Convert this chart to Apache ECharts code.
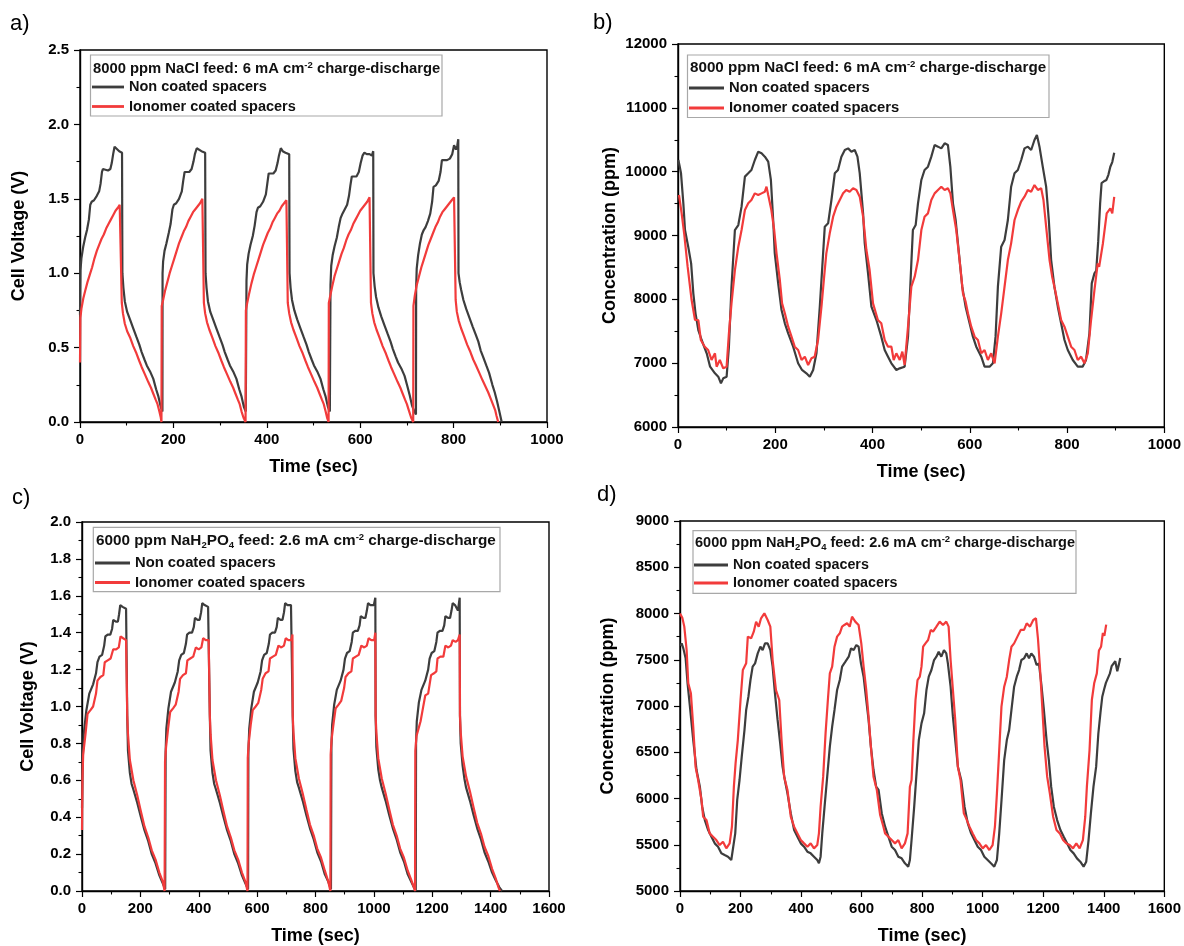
<!DOCTYPE html>
<html>
<head>
<meta charset="utf-8">
<script src="https://cdn.jsdelivr.net/npm/echarts@6/dist/echarts.min.js"></script>
<style>
html,body{margin:0;padding:0;background:#fff;}
#chart{width:1184px;height:946px;}
</style>
</head>
<body>
<div id="chart"></div>
<script>
// ---------- data: [time (sec), value] ----------
// a) 8000 ppm NaCl, cell voltage (V)
const voltNaClNonCoated = [
[0,0.72],[1,1.02],[3,1.10],[7,1.18],[11,1.24],[15,1.29],[19,1.36],[22,1.46],[25,1.48],[30,1.49],[36,1.52],[41,1.55],[44,1.60],[47,1.68],[49,1.70],[53,1.69],[60,1.69],[65,1.70],[68,1.74],[71,1.80],[74,1.85],[78,1.84],[84,1.82],[90,1.81],
[90.8,1.0],[93,0.90],[96,0.81],[101,0.74],[107,0.69],[114,0.63],[121,0.57],[127,0.52],[132,0.47],[138,0.42],[143,0.38],[150,0.34],[157,0.29],[163,0.22],[168,0.17],[173,0.10],[176.5,0.07],
[176.8,1.0],[178,1.08],[181,1.15],[185,1.20],[190,1.27],[194,1.33],[198,1.43],[201,1.46],[206,1.47],[212,1.50],[218,1.55],[221,1.62],[224,1.68],[228,1.68],[234,1.68],[239,1.70],[243,1.75],[246,1.80],[250,1.84],[254,1.83],[260,1.82],[268,1.81],
[268.8,1.0],[271,0.90],[274,0.81],[279,0.74],[285,0.69],[292,0.63],[299,0.57],[305,0.52],[310,0.47],[316,0.42],[321,0.38],[328,0.34],[335,0.29],[341,0.22],[346,0.17],[351,0.10],[355,0.07],[356.3,0.06],
[356.5,0.95],[358,1.06],[361,1.13],[365,1.19],[370,1.25],[374,1.32],[378,1.41],[381,1.44],[386,1.45],[392,1.48],[398,1.53],[401,1.60],[404,1.67],[408,1.67],[414,1.67],[419,1.69],[423,1.74],[426,1.79],[430,1.84],[434,1.82],[440,1.81],[448,1.80],
[448.7,1.0],[451,0.90],[454,0.82],[459,0.75],[465,0.69],[472,0.63],[479,0.57],[485,0.52],[490,0.47],[496,0.42],[501,0.38],[508,0.34],[515,0.29],[521,0.22],[526,0.17],[531,0.10],[535,0.07],[536.2,0.06],
[536.4,0.92],[538,1.05],[541,1.12],[545,1.18],[550,1.24],[554,1.31],[558,1.37],[562,1.40],[567,1.43],[572,1.46],[576,1.52],[579,1.59],[582,1.65],[586,1.64],[592,1.65],[597,1.68],[601,1.74],[605,1.79],[609,1.81],[614,1.80],[620,1.80],[625,1.79],[627.9,1.82],
[628.4,1.0],[631,0.91],[634,0.84],[639,0.77],[645,0.71],[652,0.65],[659,0.59],[665,0.54],[670,0.49],[676,0.44],[681,0.40],[688,0.36],[695,0.31],[701,0.24],[706,0.18],[711,0.11],[716,0.07],[719.4,0.05],
[719.8,0.9],[721,1.03],[724,1.12],[728,1.20],[732,1.26],[736,1.29],[740,1.31],[745,1.35],[750,1.40],[754,1.48],[757,1.58],[762,1.59],[768,1.62],[772,1.68],[775,1.76],[780,1.76],[786,1.76],[792,1.77],[797,1.80],[801,1.86],[805,1.83],[808,1.86],[810,1.90],
[810.5,1.0],[813,0.94],[816,0.89],[821,0.82],[827,0.76],[834,0.70],[841,0.64],[847,0.59],[853,0.54],[858,0.48],[863,0.44],[870,0.38],[876,0.33],[883,0.25],[888,0.20],[893,0.14],[898,0.07],[903,0.0]
];
const voltNaClCoated = [
[0,0.40],[0.8,0.70],[3,0.76],[7,0.83],[11,0.88],[16,0.94],[21,0.99],[26,1.04],[31,1.10],[36,1.15],[41,1.19],[46,1.23],[51,1.26],[56,1.30],[61,1.33],[66,1.36],[71,1.39],[76,1.42],[81,1.44],[85,1.46],[88.5,1.47],
[89.5,0.80],[92,0.73],[96,0.66],[101,0.61],[107,0.57],[114,0.51],[121,0.46],[127,0.41],[132,0.37],[139,0.32],[146,0.27],[152,0.23],[157,0.19],[162,0.15],[166,0.12],[170,0.07],[173,0.03],[174.4,0.0],
[175,0.78],[178,0.82],[182,0.88],[187,0.94],[192,1.00],[197,1.05],[202,1.10],[207,1.15],[212,1.20],[217,1.24],[222,1.28],[227,1.31],[232,1.35],[237,1.38],[242,1.41],[247,1.43],[252,1.45],[257,1.47],[262,1.50],[264.7,1.50],
[265.3,0.80],[268,0.73],[272,0.67],[277,0.62],[283,0.57],[290,0.51],[297,0.46],[303,0.41],[308,0.37],[315,0.32],[322,0.27],[328,0.23],[333,0.19],[338,0.15],[342,0.12],[346,0.07],[350,0.03],[354.5,0.0],
[355.2,0.75],[358,0.80],[362,0.86],[367,0.93],[372,0.99],[377,1.04],[382,1.09],[387,1.14],[392,1.19],[397,1.23],[402,1.27],[407,1.30],[412,1.34],[417,1.37],[422,1.40],[427,1.42],[432,1.45],[437,1.47],[442,1.49],[444.3,1.49],
[444.9,0.80],[448,0.73],[452,0.67],[457,0.62],[463,0.57],[470,0.51],[477,0.46],[483,0.41],[488,0.37],[495,0.32],[502,0.27],[508,0.23],[513,0.19],[518,0.15],[522,0.12],[526,0.07],[529,0.03],[532.3,0.0],
[532.8,0.80],[536,0.85],[540,0.91],[545,0.98],[550,1.03],[555,1.08],[560,1.13],[565,1.17],[570,1.22],[575,1.26],[580,1.29],[585,1.33],[590,1.36],[595,1.39],[600,1.42],[605,1.44],[610,1.46],[615,1.48],[620,1.51],[622.5,1.52],
[623.1,0.80],[626,0.73],[630,0.67],[635,0.62],[641,0.57],[648,0.51],[655,0.46],[661,0.41],[666,0.37],[673,0.32],[680,0.27],[686,0.23],[691,0.19],[696,0.15],[700,0.12],[705,0.07],[709,0.03],[713.5,0.0],
[714,0.78],[717,0.85],[721,0.92],[726,0.98],[731,1.04],[736,1.09],[741,1.14],[746,1.19],[751,1.23],[756,1.27],[761,1.31],[766,1.34],[771,1.38],[776,1.41],[781,1.43],[786,1.45],[791,1.47],[796,1.49],[801,1.51],[803.8,1.52],
[804.4,0.82],[807,0.74],[811,0.68],[816,0.63],[822,0.58],[829,0.52],[836,0.47],[842,0.42],[848,0.38],[855,0.33],[862,0.28],[868,0.24],[874,0.20],[879,0.16],[884,0.12],[889,0.08],[892,0.04],[895.5,0.0]
];

// b) 8000 ppm NaCl, concentration (ppm)
const concNaClNonCoated = [
[0.7,10183],[3,10100],[6.2,9974],[11,9504],[14.4,9086],[21,8825],[27,8564],[31.5,8094],[36,7781],[41.8,7519],[48.6,7363],[59,7154],[66,6945],[76,6841],[82.8,6788],[88.3,6684],[93,6762],[100,6788],[104.7,7258],[110,8198],[117,9086],[124,9164],[130.7,9452],[137.6,9922],[144.4,9974],[151,10026],[158,10183],[165,10313],[171.8,10287],[178.6,10235],[185.5,10157],[191,9870],[195.7,9243],[199,8720],[206,8250],[212.9,7833],[219.7,7624],[226.6,7467],[236.8,7258],[247,6998],[255,6893],[264,6841],[271,6788],[277.9,6893],[284.7,7154],[291.6,7885],[298.4,8720],[301.8,9138],[308.7,9191],[315.5,9556],[322.4,9974],[329,10026],[336,10235],[343,10339],[349.8,10365],[356.6,10313],[363.4,10339],[369,10235],[373.7,9974],[380.6,9347],[384,8877],[390.8,8407],[397.7,7885],[408,7676],[418,7415],[425,7206],[431.9,7102],[438.8,6998],[449,6893],[455.9,6919],[466,6945],[473,7415],[479.8,8564],[483,9086],[488.7,9164],[493.5,9504],[500.4,9870],[507,10026],[514,10078],[520.9,10235],[527.7,10418],[534.6,10392],[541.4,10365],[548.3,10444],[555,10418],[560,10078],[565.4,9504],[570.9,9243],[577.7,8720],[584.5,8198],[591.4,7885],[599.6,7624],[606.4,7415],[613.3,7258],[623.6,7102],[630.4,6945],[640.7,6945],[647.5,6998],[653,7415],[657.8,8198],[664.6,8825],[671.5,8929],[678.3,9243],[685,9765],[692,9974],[698.8,10026],[705.7,10183],[712.5,10365],[719.4,10392],[726.2,10339],[733,10496],[738,10574],[743.3,10392],[750,10078],[757,9765],[762.5,9243],[767.3,8616],[774,8198],[781,7885],[787.8,7624],[794.7,7363],[801.5,7206],[811.8,7050],[822,6945],[832,6945],[839,7050],[846,7467],[850.8,8250],[856.3,8407],[860,8450],[864,8900],[868,9500],[871,9820],[876,9850],[881,9870],[885,9950],[889,10077],[893,10150],[897,10296]
];
const concNaClCoated = [
[2,9634],[7.5,9347],[13,9008],[19.8,8511],[28,7989],[35,7676],[41.8,7676],[47,7363],[55,7258],[62,7206],[69,7050],[76,7154],[79.4,6945],[86,7050],[93,6919],[100,6945],[104.7,7467],[110,7937],[117,8459],[124,8825],[130.7,9086],[137.6,9399],[144.4,9504],[151,9556],[158,9660],[165,9634],[171.8,9660],[178.6,9686],[182,9765],[185.5,9634],[192,9399],[197.8,9086],[202.6,8720],[209.4,8303],[214,7937],[219.7,7781],[226.6,7572],[233.4,7415],[240,7258],[247,7206],[254,7050],[260.8,7102],[267.6,6971],[274.5,7076],[281,7102],[288,7363],[295,7885],[300.5,8355],[305,8720],[312,9034],[319,9295],[325.8,9452],[332.6,9556],[339.5,9660],[346,9713],[353,9686],[360,9739],[366.9,9713],[373.7,9608],[380.6,9295],[387.4,8773],[394,8459],[401,7937],[411,7676],[418,7624],[425,7363],[431.9,7258],[438.8,7258],[443.5,7050],[449,7154],[456,7050],[461.3,7180],[466,6971],[473,7572],[479.8,8198],[486.7,8355],[493.5,8616],[500.4,9086],[507,9295],[514,9347],[520.9,9556],[527.7,9660],[534.6,9713],[541.4,9765],[548.3,9713],[555,9739],[560,9660],[565.4,9399],[572.2,9086],[579,8616],[586,8094],[591.4,7963],[596.2,7781],[603,7572],[610,7415],[616.7,7363],[623.6,7154],[630.4,7206],[637.2,7050],[644,7154],[651,6998],[657.8,7415],[664.6,7781],[671.5,8198],[678.3,8616],[685,8877],[692,9243],[698.8,9399],[705.7,9530],[712.5,9608],[719.4,9713],[726.2,9686],[733,9791],[740,9713],[746.8,9739],[751.5,9556],[757,9138],[764,8616],[769.4,8355],[774,8198],[781,7937],[787.8,7676],[794.7,7572],[801.5,7415],[808.4,7258],[815.2,7206],[822,7050],[829,7102],[835.7,6998],[842.6,7154],[849.4,7676],[856.3,8146],[863,8564],[866,8509],[873.7,8875],[881.5,9345],[889,9424],[893,9345],[897,9607]
];

// c) 6000 ppm NaH2PO4, cell voltage (V)
const voltPhosNonCoated = [
[0,0.45],[2,0.69],[6,0.85],[15,0.98],[25,1.07],[38,1.12],[48,1.18],[53,1.24],[60,1.27],[69,1.28],[76,1.33],[80,1.38],[88,1.39],[97,1.39],[103,1.42],[107,1.47],[116,1.46],[123,1.46],[127,1.50],[131,1.55],[139,1.54],[151,1.53],[153.5,1.53],
[155,0.95],[157.5,0.76],[164,0.64],[170,0.58],[176,0.55],[189,0.48],[202,0.40],[214,0.33],[227,0.27],[239,0.20],[252,0.15],[265,0.085],[277,0.04],[285,0.01],
[286.5,0.75],[289,0.88],[296,0.99],[305,1.08],[318,1.13],[328,1.19],[333,1.25],[340,1.28],[349,1.29],[356,1.34],[360,1.39],[368,1.40],[377,1.40],[383,1.43],[387,1.48],[396,1.47],[403,1.47],[408,1.51],[412,1.56],[420,1.55],[432,1.54],[437,1.54],
[438,0.95],[440.5,0.76],[447,0.64],[453,0.58],[459,0.55],[472,0.48],[485,0.40],[497,0.33],[510,0.27],[522,0.20],[535,0.15],[548,0.085],[560,0.04],[569,0.01],
[570,0.75],[573,0.88],[580,0.99],[589,1.08],[602,1.13],[612,1.19],[617,1.25],[624,1.28],[633,1.29],[640,1.34],[644,1.39],[652,1.40],[661,1.40],[667,1.43],[671,1.48],[680,1.47],[687,1.47],[692,1.51],[696,1.56],[704,1.55],[716,1.55],[721,1.56],
[722,0.95],[724.5,0.77],[731,0.65],[737,0.59],[743,0.56],[756,0.49],[769,0.41],[781,0.34],[794,0.28],[806,0.21],[819,0.16],[832,0.09],[844,0.05],[853,0.01],
[854.5,0.78],[857,0.90],[864,1.01],[873,1.09],[886,1.14],[896,1.20],[901,1.26],[908,1.29],[917,1.30],[924,1.35],[928,1.40],[936,1.41],[945,1.41],[951,1.44],[955,1.49],[964,1.48],[971,1.48],[976,1.52],[980,1.56],[988,1.55],[1000,1.55],[1005,1.59],
[1006,0.95],[1008.5,0.78],[1015,0.66],[1021,0.60],[1027,0.56],[1040,0.49],[1053,0.41],[1065,0.34],[1078,0.28],[1090,0.21],[1103,0.16],[1116,0.09],[1128,0.05],[1137,0.02],[1143.5,0.0],
[1144.5,0.80],[1147,0.92],[1154,1.02],[1163,1.09],[1176,1.14],[1186,1.20],[1191,1.26],[1198,1.29],[1207,1.30],[1214,1.35],[1218,1.40],[1226,1.41],[1235,1.41],[1241,1.44],[1245,1.49],[1254,1.48],[1261,1.48],[1266,1.52],[1270,1.56],[1278,1.55],[1288,1.52],[1294,1.59],
[1295,0.95],[1297.5,0.80],[1304,0.68],[1310,0.61],[1316,0.56],[1329,0.49],[1342,0.41],[1354,0.34],[1367,0.28],[1379,0.21],[1392,0.16],[1405,0.10],[1417,0.06],[1430,0.02],[1439,0.0]
];
const voltPhosCoated = [
[0,0.33],[1.5,0.60],[4,0.74],[12,0.85],[19,0.96],[29,0.98],[38,1.0],[48,1.07],[53,1.14],[63,1.16],[73,1.17],[78,1.24],[88,1.25],[98,1.26],[107,1.31],[117,1.31],[126,1.32],[132,1.38],[141,1.37],[151,1.36],[153.5,1.36],
[155,0.95],[157.5,0.85],[164,0.71],[176,0.60],[189,0.52],[202,0.43],[214,0.35],[227,0.29],[239,0.22],[252,0.17],[265,0.10],[277,0.05],[283,0.0],
[284.5,0.70],[288,0.78],[295,0.88],[302,0.97],[312,0.99],[321,1.01],[331,1.08],[336,1.15],[346,1.17],[356,1.18],[361,1.25],[371,1.26],[381,1.27],[390,1.32],[400,1.31],[409,1.32],[415,1.37],[424,1.36],[434,1.36],[437,1.36],
[438,0.95],[440.5,0.85],[447,0.71],[459,0.60],[472,0.52],[485,0.43],[497,0.35],[510,0.29],[522,0.22],[535,0.17],[548,0.10],[560,0.05],[567,0.0],
[568,0.72],[571,0.80],[578,0.90],[585,0.98],[595,1.0],[604,1.02],[614,1.09],[619,1.15],[629,1.18],[639,1.19],[644,1.26],[654,1.27],[664,1.28],[673,1.33],[683,1.32],[692,1.33],[698,1.37],[707,1.36],[717,1.36],[721,1.39],
[722,0.95],[724.5,0.86],[731,0.72],[743,0.61],[756,0.53],[769,0.44],[781,0.36],[794,0.30],[806,0.23],[819,0.18],[832,0.11],[844,0.05],[851,0.0],
[852,0.74],[855,0.82],[862,0.91],[869,0.99],[879,1.01],[888,1.03],[898,1.10],[903,1.16],[913,1.18],[923,1.19],[928,1.26],[938,1.27],[948,1.28],[957,1.33],[967,1.32],[976,1.33],[982,1.37],[991,1.36],[1001,1.36],[1005,1.40],
[1006,0.95],[1008.5,0.86],[1015,0.72],[1027,0.61],[1040,0.53],[1053,0.44],[1065,0.36],[1078,0.30],[1090,0.23],[1103,0.18],[1116,0.11],[1128,0.06],[1137,0.02],[1141,0.0],
[1142,0.76],[1146,0.84],[1153,0.88],[1160,0.92],[1168,0.99],[1176,1.06],[1186,1.07],[1191,1.12],[1196,1.17],[1206,1.18],[1214,1.19],[1218,1.26],[1228,1.27],[1238,1.27],[1245,1.33],[1255,1.32],[1264,1.33],[1270,1.36],[1280,1.35],[1288,1.36],[1294,1.39],
[1295,0.95],[1297.5,0.86],[1304,0.73],[1316,0.62],[1329,0.54],[1342,0.45],[1354,0.37],[1367,0.31],[1379,0.24],[1392,0.19],[1405,0.12],[1417,0.07],[1427,0.02],[1432,0.0]
];

// d) 6000 ppm NaH2PO4, concentration (ppm)
const concPhosNonCoated = [
[2,7650],[5.5,7677],[11,7623],[18.6,7515],[25,7245],[32.8,6993],[43.7,6632],[54.6,6308],[65.6,6128],[73.2,5912],[82,5767],[93,5659],[103.8,5587],[114.8,5515],[125.7,5479],[136.6,5407],[147.5,5389],[158.5,5371],[169.4,5335],[175,5353],[182.5,5623],[189,5984],[196.7,6200],[204,6452],[213,6740],[218.6,6957],[226,7101],[232.8,7281],[240,7425],[248,7461],[256.8,7569],[265.6,7641],[273,7605],[280.9,7677],[289.6,7677],[298.4,7605],[306,7425],[313.7,7137],[322.4,6849],[331,6596],[338.8,6344],[346.4,6200],[355,6056],[366,5839],[377,5659],[388,5587],[399,5515],[409.8,5479],[420.8,5425],[431.7,5407],[442.6,5371],[453.5,5335],[459,5299],[464.5,5371],[470,5623],[477.6,5912],[486.3,6236],[495,6560],[502.7,6776],[510.4,6957],[519,7173],[527.9,7281],[535.5,7425],[546.5,7479],[557.4,7533],[565,7623],[573.8,7605],[582.5,7659],[590,7641],[597.8,7461],[606.6,7317],[615.3,7065],[623,6849],[630.6,6560],[639.3,6308],[648,6128],[656,6092],[666.6,5839],[677.6,5695],[688.5,5587],[699.4,5479],[710.3,5443],[721.3,5371],[732.2,5353],[743.1,5299],[754,5263],[759.5,5335],[765,5551],[773.7,5912],[781.4,6272],[789,6632],[797.8,6812],[806.5,6921],[814.2,7173],[821.8,7317],[830.6,7389],[839.3,7497],[847,7533],[854.6,7587],[863.3,7533],[872,7605],[879.7,7569],[885,7461],[894,7209],[901.6,6885],[909.3,6632],[918,6344],[929,6200],[940,5912],[950.8,5731],[961.7,5623],[972.6,5551],[983.6,5479],[994.5,5443],[1005.4,5371],[1016.4,5335],[1027.3,5299],[1038.2,5263],[1047,5335],[1054.6,5623],[1062.2,5984],[1071,6416],[1079.7,6632],[1087.4,6740],[1095,6957],[1103.8,7209],[1112.5,7317],[1120.2,7389],[1127.8,7497],[1136.6,7515],[1145.3,7569],[1153,7515],[1160.6,7569],[1169.4,7533],[1178,7443],[1185.8,7461],[1193.4,7245],[1202.2,6957],[1211,6632],[1218.5,6416],[1226.2,6128],[1235,5912],[1245.9,5767],[1256.8,5659],[1267.7,5587],[1278.7,5515],[1289.6,5443],[1300.5,5407],[1311.4,5353],[1322.4,5317],[1333.3,5263],[1342,5317],[1349.7,5551],[1357.4,5839],[1366,6128],[1374.8,6344],[1382,6700],[1389,6926],[1395,7100],[1401,7178],[1407,7250],[1413.5,7250],[1420,7350],[1426,7430],[1432,7450],[1438,7484],[1444.6,7376],[1450,7450],[1454.5,7520]
];
const concPhosCoated = [
[0,8000],[3.3,7984],[8,7950],[14.2,7858],[21.9,7605],[27.3,7245],[36,7137],[43.7,6776],[51.4,6344],[60,6200],[71,5984],[76.5,5803],[87.4,5767],[98,5623],[109,5587],[120,5551],[131,5497],[142,5533],[153,5461],[164,5515],[171.6,5695],[178,6128],[183.6,6380],[191,6632],[200,7065],[207.6,7389],[218.6,7461],[224,7750],[235,7732],[243.7,7804],[251.4,7912],[260,7858],[267.8,7948],[278.7,8002],[289.6,7930],[298.4,7858],[306,7497],[317,7173],[327.9,7065],[335.5,6632],[344,6236],[355,6092],[366,5803],[377,5695],[388,5623],[399,5551],[409.8,5515],[420.8,5479],[431.7,5515],[442.6,5461],[453.5,5497],[459,5623],[464.5,5911],[473,6236],[480.9,6704],[488.5,7065],[495,7353],[502.7,7425],[510.4,7641],[519,7750],[527.9,7786],[535.5,7858],[543,7876],[552,7894],[560.7,7858],[568.3,7966],[579,7912],[590,7876],[598.9,7677],[606.6,7425],[615.3,7173],[623,6885],[630.6,6560],[639.3,6236],[650.3,6092],[661.2,5821],[672,5695],[677.6,5623],[688.5,5587],[699.4,5551],[710.3,5515],[721.3,5551],[732.2,5461],[743.1,5515],[751.9,5623],[759.5,6128],[765,6200],[770.5,6596],[778,7065],[784.7,7281],[792.3,7317],[797.8,7425],[803.2,7641],[810.9,7677],[819.6,7713],[828.4,7822],[836,7804],[847,7858],[857.9,7912],[868.8,7876],[879.7,7912],[887.4,7858],[894,7497],[901.6,7173],[909.3,6849],[918,6344],[926.7,6200],[937.7,5839],[945.3,5785],[956.3,5695],[967,5623],[978,5551],[989,5515],[1000,5461],[1011,5497],[1022,5443],[1032.7,5497],[1040.4,5695],[1047,6056],[1054.6,6524],[1062,6993],[1071,7209],[1079.7,7317],[1087.4,7497],[1095,7641],[1103.8,7677],[1114.7,7750],[1125.6,7822],[1136.6,7822],[1145.3,7894],[1156.3,7858],[1167,7930],[1176,7948],[1182.5,7732],[1189,7425],[1196.7,6993],[1204.3,6560],[1213,6236],[1221.8,6056],[1232.7,5803],[1243.7,5659],[1254.6,5623],[1265.5,5551],[1276.5,5515],[1287.4,5497],[1298.3,5461],[1309.3,5515],[1320.2,5461],[1331,5551],[1338.8,5803],[1344.2,6128],[1353,6524],[1360.6,7065],[1368.3,7245],[1377,7353],[1384,7600],[1391,7640],[1397,7790],[1402,7760],[1408,7880]
];

// axis ranges / ticks
const xTicksNaCl = {min:0, max:1000, interval:200};
const xTicksPhos = {min:0, max:1600, interval:200};
const yTicksA = {min:0, max:2.5, interval:0.5};
const yTicksB = {min:6000, max:12000, interval:1000};
const yTicksC = {min:0, max:2.0, interval:0.2};
const yTicksD = {min:5000, max:9000, interval:500};

const seriesNames = ['Non coated spacers', 'Ionomer coated spacers'];
const headerNaCl = ['8000 ppm NaCl feed: 6 mA cm', '-2', ' charge-discharge'];
const headerPhos = ['6000 ppm NaH', '2', 'PO', '4', ' feed: 2.6 mA cm', '-2', ' charge-discharge'];
const panelLabels = ['a)', 'b)', 'c)', 'd)'];

// ---------- chart ----------
const FONT = '"Liberation Sans", Arial, Helvetica, sans-serif';
const BLACK = '#3d3d3d';
const RED = '#f23b3b';

const grids = [
  {left:80, top:50, width:467, height:372},
  {left:678, top:44, width:487, height:383},
  {left:82, top:522, width:467, height:369},
  {left:680, top:521, width:488, height:370}
].map(g => Object.assign(g, {show:true, borderColor:'#000', borderWidth:1.4, backgroundColor:'transparent'}));

function xAxis(i, t) {
  return {
    gridIndex:i, type:'value', min:t.min, max:t.max, interval:t.interval,
    name:'Time (sec)', nameLocation:'middle', nameGap:36,
    nameTextStyle:{fontFamily:FONT, fontSize:18, fontWeight:'bold', color:'#000'},
    axisLine:{show:true, onZero:false, lineStyle:{color:'#000', width:1.4}},
    axisTick:{show:true, inside:false, length:6, lineStyle:{color:'#000', width:1.2}},
    minorTick:{show:true, splitNumber:2, length:3.5, lineStyle:{color:'#000', width:1.1}},
    splitLine:{show:false},
    axisLabel:{margin:10, fontFamily:FONT, fontSize:15, fontWeight:'bold', color:'#000',
      formatter: v => String(v)}
  };
}
function yAxis(i, t, name, gap, dec) {
  return {
    gridIndex:i, type:'value', min:t.min, max:t.max, interval:t.interval,
    name:name, nameLocation:'middle', nameGap:gap,
    nameTextStyle:{fontFamily:FONT, fontSize:18, fontWeight:'bold', color:'#000'},
    axisLine:{show:true, onZero:false, lineStyle:{color:'#000', width:1.4}},
    axisTick:{show:true, inside:false, length:6, lineStyle:{color:'#000', width:1.2}},
    minorTick:{show:true, splitNumber:2, length:3.5, lineStyle:{color:'#000', width:1.1}},
    splitLine:{show:false},
    axisLabel:{margin:11, fontFamily:FONT, fontSize:15, fontWeight:'bold', color:'#000',
      formatter: v => dec ? v.toFixed(dec) : String(v)}
  };
}
function line(name, data, i, color) {
  return {type:'line', name:name, data:data, xAxisIndex:i, yAxisIndex:i,
    showSymbol:false, symbol:'none', clip:true,
    lineStyle:{color:color, width:2.2}, itemStyle:{color:color}, z: color === RED ? 3 : 2};
}

const richStyles = (fs) => ({
  n:{fontFamily:FONT, fontSize:fs, fontWeight:'bold', color:'#111', lineHeight:18},
  sup:{fontFamily:FONT, fontSize:9.5, fontWeight:'bold', color:'#111', lineHeight:18, verticalAlign:'top'},
  sub:{fontFamily:FONT, fontSize:9.5, fontWeight:'bold', color:'#111', lineHeight:18, verticalAlign:'bottom'}
});
const naclText = '{n|' + headerNaCl[0] + '}{sup|' + headerNaCl[1] + '}{n|' + headerNaCl[2] + '}';
const phosText = '{n|' + headerPhos[0] + '}{sub|' + headerPhos[1] + '}{n|' + headerPhos[2] + '}{sub|' + headerPhos[3] + '}{n|' + headerPhos[4] + '}{sup|' + headerPhos[5] + '}{n|' + headerPhos[6] + '}';

const headers = [
  {text:naclText, left:93, top:60, fs:14.8},
  {text:naclText, left:690, top:59, fs:15.2},
  {text:phosText, left:96, top:532, fs:15.3},
  {text:phosText, left:695, top:534, fs:14.5}
];
const legends = [
  {left:92, top:79.5, w:32, gap:4.5, fs:14.5},
  {left:689, top:80.5, w:35, gap:5, fs:14.8},
  {left:95, top:555.5, w:35, gap:4.5, fs:14.8},
  {left:694, top:558, w:34, gap:4, fs:14.3}
];
const boxes = [
  [90.5, 55, 351.5, 61],
  [687.5, 55, 361.5, 62.5],
  [93.3, 527.3, 406.7, 64.4],
  [693, 530.7, 383, 62.6]
];
const labelPos = [[10,13],[593,12],[12,487],[597,484]];

const option = {
  animation:false,
  backgroundColor:'#fff',
  grid:grids,
  xAxis:[xAxis(0,xTicksNaCl), xAxis(1,xTicksNaCl), xAxis(2,xTicksPhos), xAxis(3,xTicksPhos)],
  yAxis:[
    yAxis(0,yTicksA,'Cell Voltage (V)',52,1),
    yAxis(1,yTicksB,'Concentration (ppm)',59,0),
    yAxis(2,yTicksC,'Cell Voltage (V)',45,1),
    yAxis(3,yTicksD,'Concentration (ppm)',63,0)
  ],
  title: headers.map(h => ({text:h.text, left:h.left, top:h.top, padding:0, textStyle:{rich:richStyles(h.fs)}})),
  legend: legends.map(l => ({
    data:seriesNames, orient:'vertical', left:l.left, top:l.top, padding:0,
    itemWidth:l.w, itemHeight:2.8, itemGap:l.gap, icon:'rect', selectedMode:false,
    textStyle:{fontFamily:FONT, fontSize:l.fs, fontWeight:'bold', color:'#111'}
  })),
  graphic: [
    ...boxes.map(b => ({type:'rect', silent:true, z:1, shape:{x:b[0], y:b[1], width:b[2], height:b[3]},
      style:{fill:'none', stroke:'#a8a8a8', lineWidth:1.2}})),
    ...panelLabels.map((t,i) => ({type:'text', left:labelPos[i][0], top:labelPos[i][1],
      style:{text:t, font:'22px ' + FONT, fill:'#000'}}))
  ],
  series:[
    line(seriesNames[0], voltNaClNonCoated, 0, BLACK),
    line(seriesNames[1], voltNaClCoated, 0, RED),
    line(seriesNames[0], concNaClNonCoated, 1, BLACK),
    line(seriesNames[1], concNaClCoated, 1, RED),
    line(seriesNames[0], voltPhosNonCoated, 2, BLACK),
    line(seriesNames[1], voltPhosCoated, 2, RED),
    line(seriesNames[0], concPhosNonCoated, 3, BLACK),
    line(seriesNames[1], concPhosCoated, 3, RED)
  ]
};
const chart = echarts.init(document.getElementById('chart'), null, {renderer:'canvas'});
chart.setOption(option);
</script>
</body>
</html>
